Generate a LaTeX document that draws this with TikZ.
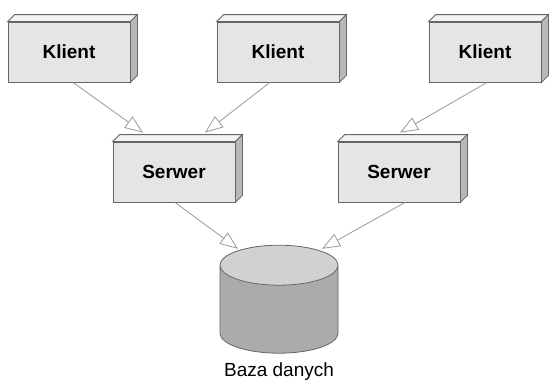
\documentclass[tikz,border=0pt]{standalone}
\usepackage{fontspec}
\setmainfont{Liberation Sans}
\usepackage{tikz}
\usetikzlibrary{shapes.geometric,arrows.meta,calc}

\begin{document}
\begin{tikzpicture}[x=0.5pt,y=-0.5pt]
    \tikzstyle{box} = [
      draw=black!60,
      fill=black!10,
      minimum width=61pt,
      minimum height=30pt,
      font=\fontsize{9.5}{11}\selectfont\bfseries,
    ]
    \tikzstyle{topface} = [
      draw=black!60,
      fill=black!5,
    ]
    \tikzstyle{sideface} = [
      draw=black!60,
      fill=black!28,
    ]
    \tikzstyle{arrow} = [
      draw=black!40,
      -{Triangle[open,length=9pt,width=7pt]},
    ]
    \tikzstyle{db} = [
      cylinder,
      shape border rotate=90,
      aspect=3,
      draw=black!60,
      cylinder uses custom fill,
      cylinder body fill=black!33,
      cylinder end fill=black!18,
      minimum width=59pt,
      minimum height=54pt,
    ]

    \newcommand{\depth}[0]{7}

    \useasboundingbox (0,0) rectangle (549,387);

    % clients
    {
      \node[box] (klientI)   at (69,52)  {Klient};
      \node[box] (klientII)  at (278,52) {Klient};
      \node[box, minimum width=56pt] (klientIII) at (485,52) {Klient};
    }

    % servers
    {
      \node[box] (serwerI)  at (174,172) {Serwer};
      \node[box] (serwerII) at (399,172) {Serwer};
    }

    % 3d faces
    \foreach \n in {klientI,klientII,klientIII,serwerI,serwerII} {
      \draw[topface] (\n.north west) -- ([shift={(\depth,-\depth)}] \n.north west)
        -- ([shift={(\depth,-\depth)}] \n.north east) -- (\n.north east) -- cycle;
      \draw[sideface] (\n.north east) -- ([shift={(\depth,-\depth)}] \n.north east)
        -- ([shift={(\depth,-\depth)}] \n.south east) -- (\n.south east) -- cycle;
    }

    % database
    {
      \node[db] (baza) at (279,314) {};
      \node[font=\fontsize{9.5}{11}\selectfont, anchor=north] (bazaLabel) at ([shift={(0,2)}] baza.south) {Baza danych};
    }

    % connections
    {
      \draw[arrow] ([shift={(4,0)}] klientI.south) -- ([shift={(-31,-9)}] serwerI.north);
      \draw[arrow] ([shift={(-8,0)}] klientII.south) -- ([shift={(31,-9)}] serwerI.north);
      \draw[arrow] ([shift={(2,0)}] klientIII.south) -- ([shift={(1,-9)}] serwerII.north);
      \draw[arrow] ([shift={(1,0)}] serwerI.south) -- ([shift={(-41,4)}] baza.north);
      \draw[arrow] ([shift={(6,0)}] serwerII.south) -- ([shift={(43,4)}] baza.north);
    }
\end{tikzpicture}
\end{document}
